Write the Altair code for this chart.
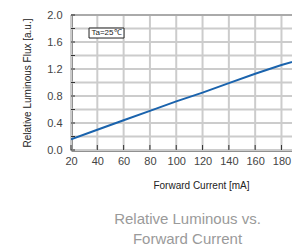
import altair as alt
import pandas as pd

current = [20, 40, 60, 80, 100, 120, 140, 160, 180, 200]
flux = [0.16, 0.30, 0.44, 0.58, 0.72, 0.85, 0.99, 1.13, 1.26, 1.37]

x_ticks = [20, 40, 60, 80, 100, 120, 140, 160, 180, 200]
y_ticks = [0.0, 0.2, 0.4, 0.6, 0.8, 1.0, 1.2, 1.4, 1.6, 1.8, 2.0]

note_text = ["Ta=25\u2103"]
note_x = [47]
note_y = [1.733]
box_x = [33.7]
box_x2 = [60.3]
box_y = [1.807]
box_y2 = [1.659]

top_y = [2.0]

X_MAX = 188.0
shown_x = [v for v in x_ticks if v <= X_MAX]

df = pd.DataFrame({"current": current, "flux": flux})
note = pd.DataFrame({"t": note_text, "x": note_x, "y": note_y,
                     "x1": box_x, "x2": box_x2, "y1": box_y, "y2": box_y2})
xt = pd.DataFrame({"gx": shown_x})
yt = pd.DataFrame({"gy": y_ticks})
tp = pd.DataFrame({"ty": top_y})

FONT = "Liberation Sans"
W, H = 221, 135

xscale = alt.Scale(domain=[20, X_MAX], nice=False, zero=False)
yscale = alt.Scale(domain=[0, 2.0], nice=False, zero=True)

xaxis = alt.Axis(values=shown_x, title="Forward Current [mA]", format="d",
                 grid=False, ticks=False, labelPadding=5, labelFontSize=11,
                 labelColor="#444", labelFont=FONT, labelOverlap=False,
                 labelFlush=False,
                 domainColor="#222", domainWidth=2,
                 titleFont=FONT, titleFontSize=10, titleFontWeight="normal",
                 titleColor="#222", titlePadding=14, titleX=130)
yaxis = alt.Axis(values=y_ticks, title="Relative Luminous Flux [a.u.]",
                 labelExpr="round(datum.value*10) % 4 == 0 ? format(datum.value, '.1f') : ''",
                 grid=False, ticks=False, labelPadding=9, labelFontSize=11,
                 labelColor="#444", labelFont=FONT, labelOverlap=False,
                 labelFlush=False,
                 domainColor="#222", domainWidth=2,
                 titleFont=FONT, titleFontSize=10, titleFontWeight="normal",
                 titleColor="#222", titlePadding=14)


def X(f):
    return alt.X(f, scale=xscale, axis=xaxis)


def Y(f):
    return alt.Y(f, scale=yscale, axis=yaxis)


xgrid = alt.Chart(xt).mark_rule(color="#cccccc", strokeWidth=2).encode(
    x=X("gx:Q"), y=alt.value(0), y2=alt.value(H))
ygrid = alt.Chart(yt).mark_rule(color="#cccccc", strokeWidth=2).encode(
    y=Y("gy:Q"), x=alt.value(0), x2=alt.value(W))

line = alt.Chart(df).mark_line(color="#1a63ad", strokeWidth=2, clip=True).encode(
    x=X("current:Q"), y=Y("flux:Q"))

xtick = alt.Chart(xt).mark_rule(color="#333", strokeWidth=1).encode(
    x=X("gx:Q"), y=alt.value(H - 5), y2=alt.value(H))
ytick = alt.Chart(yt).mark_rule(color="#333", strokeWidth=1).encode(
    y=Y("gy:Q"), x=alt.value(0), x2=alt.value(4))
topline = alt.Chart(tp).mark_rule(color="#aaaaaa", strokeWidth=2).encode(
    y=Y("ty:Q"), x=alt.value(0), x2=alt.value(W))

box = alt.Chart(note).mark_rect(fill="white", stroke="#222", strokeWidth=1).encode(
    x=X("x1:Q"), x2="x2:Q", y=Y("y1:Q"), y2="y2:Q")
txt = alt.Chart(note).mark_text(font=FONT, fontSize=8, color="#222").encode(
    x=X("x:Q"), y=Y("y:Q"), text="t:N")

chart = alt.layer(xgrid, ygrid, line, topline, xtick, ytick, box, txt).properties(
    width=W, height=H,
    autosize=alt.AutoSizeParams(type="none"),
    padding={"left": 63, "top": 7, "right": 0, "bottom": 102},
    title=alt.TitleParams(["Relative Luminous vs.", "Forward Current"], orient="bottom",
                          anchor="middle", font=FONT, fontSize=15, fontWeight="normal",
                          color="#9a9a9a", lineHeight=20, offset=22, dx=6),
).configure_view(strokeWidth=0)

chart.save("out.html", embed_options={"renderer": "svg", "actions": False})
